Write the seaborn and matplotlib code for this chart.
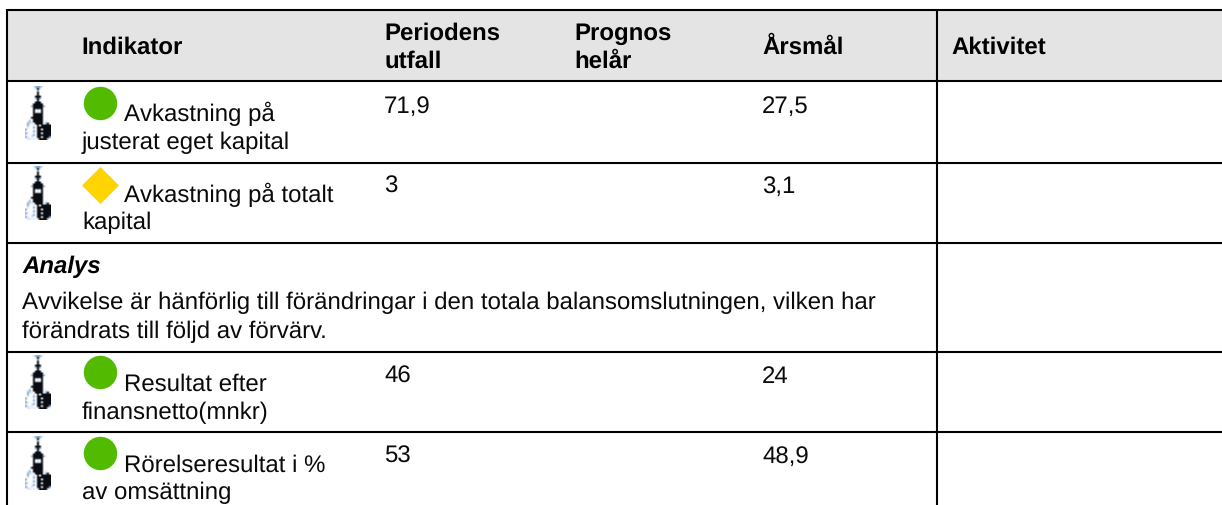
import pandas as pd
import numpy as np
import seaborn as sns
import matplotlib.pyplot as plt

# table content
headers = ["Indikator", "Periodens\nutfall", "Prognos\nhelår", "Årsmål", "Aktivitet"]
indicators = [
    ["Avkastning på", "justerat eget kapital"],
    ["Avkastning på totalt", "kapital"],
    ["Resultat efter", "finansnetto(mnkr)"],
    ["Rörelseresultat i %", "av omsättning"],
]
statuses = ["green", "yellow", "green", "green"]
outcomes = ["71,9", "3", "46", "53"]
targets = ["27,5", "3,1", "24", "48,9"]
analys_title = "Analys"
analys_text = [
    "Avvikelse är hänförlig till förändringar i den totala balansomslutningen, vilken har",
    "förändrats till följd av förvärv.",
]

sns.set_theme(style="white")
plt.rcParams["font.family"] = ["Liberation Sans", "DejaVu Sans"]
plt.rcParams["text.hinting"] = "no_hinting"
plt.rcParams["text.hinting_factor"] = 1

fig, ax = plt.subplots(figsize=(12.22, 5.06), dpi=100)
fig.subplots_adjust(0, 0, 1, 1)
ax.set_xlim(0, 1222)
ax.set_ylim(506, 0)
ax.axis("off")

fs = 17
fs_bold = 17
fs_value = 17.3
line_w = 1.5
text_color = "#0a0a0a"
icon_tops = [87, 167, 356, 437]

# header band
ax.fill_between([7, 1222], 10, 81, color="#e4e4e4", lw=0, zorder=0)

# grid lines
for y in [10.7, 82, 163.5, 244, 352.5, 432.5]:
    ax.plot([7, 1222], [y, y], color="black", lw=line_w, solid_capstyle="butt")
ax.plot([7, 7], [10, 506], color="black", lw=line_w, solid_capstyle="butt")
ax.plot([937, 937], [10, 506], color="black", lw=line_w, solid_capstyle="butt")

# header text
ax.text(81.5, 54, headers[0], fontsize=fs_bold, fontweight="bold", color="black")
ax.text(384.5, 40, headers[1].split("\n")[0], fontsize=fs_bold, fontweight="bold", color="black")
ax.text(384.5, 67.5, headers[1].split("\n")[1], fontsize=fs_bold, fontweight="bold", color="black")
ax.text(574.5, 40, headers[2].split("\n")[0], fontsize=fs_bold, fontweight="bold", color="black")
ax.text(574.5, 67.5, headers[2].split("\n")[1], fontsize=fs_bold, fontweight="bold", color="black")
ax.text(762.5, 54, headers[3], fontsize=fs_bold, fontweight="bold", color="black")
ax.text(951.5, 54, headers[4], fontsize=fs_bold, fontweight="bold", color="black")

# rows
first_base = [121, 202, 391, 472]
second_base = [149.5, 229.5, 419, 499.5]
value_base = [113, 193, 383, 463]
for i in range(4):
    ax.text(124.5, first_base[i], indicators[i][0], fontsize=fs, color=text_color)
    ax.text(82, second_base[i], indicators[i][1], fontsize=fs, color=text_color)
    ax.text(384, value_base[i], outcomes[i], fontsize=fs_value, color=text_color)
    ax.text(762, value_base[i], targets[i], fontsize=fs_value, color=text_color)

# status markers
status_df = pd.DataFrame({"status": statuses, "x": 99.7, "y": [103.7, 186, 373.3, 454.3]})
green = status_df[status_df["status"] == "green"]
yellow = status_df[status_df["status"] == "yellow"]
sns.scatterplot(data=green, x="x", y="y", color="#52ba00", marker="o", s=580,
                linewidth=0, ax=ax, legend=False, clip_on=False)
sns.scatterplot(data=yellow, x="x", y="y", color="#ffd400", marker="D", s=355,
                linewidth=0, ax=ax, legend=False, clip_on=False)
ax.set_xlabel("")
ax.set_ylabel("")

# analysis block
ax.text(22, 273, analys_title, fontsize=fs_bold, fontweight="bold", style="italic", color="black")
ax.text(22, 309, analys_text[0], fontsize=fs, color=text_color)
ax.text(22, 338, analys_text[1], fontsize=fs, color=text_color)

# small city hall tower icon
icon = [
    "....o+++o....",
    ".....o#o.....",
    "......+......",
    "......#......",
    "......#......",
    ".....###.....",
    ".....+#+.....",
    "......#......",
    ".....###.....",
    "....#####....",
    "...+#####+...",
    "....#####....",
    "....#.o.#....",
    "....#.o.#....",
    "....#####....",
    "....#####....",
    "...######....",
    "..o.#####....",
    ".o+.#####.o..",
    ".+oo.####.+#.",
    ".+..o.#.#####",
    ".o..+.#######",
    "+...o.##.####",
    "o...+.#######",
    "+o..o.##.####",
    "o..o+.#######",
    "+o.o..##.###+",
    ".oo.o.o####o.",
]
palette = {".": (1, 1, 1), "#": (0.04, 0.05, 0.08), "+": (0.55, 0.68, 0.82), "o": (0.85, 0.9, 0.96)}
icon_rgb = np.array([[palette[c] for c in row] for row in icon])
for top in icon_tops:
    ax.imshow(icon_rgb, extent=(25, 51, top + 54, top), interpolation="bilinear",
              aspect="auto", zorder=2)
ax.set_xlim(0, 1222)
ax.set_ylim(506, 0)

fig.savefig("out.png", dpi=100)
